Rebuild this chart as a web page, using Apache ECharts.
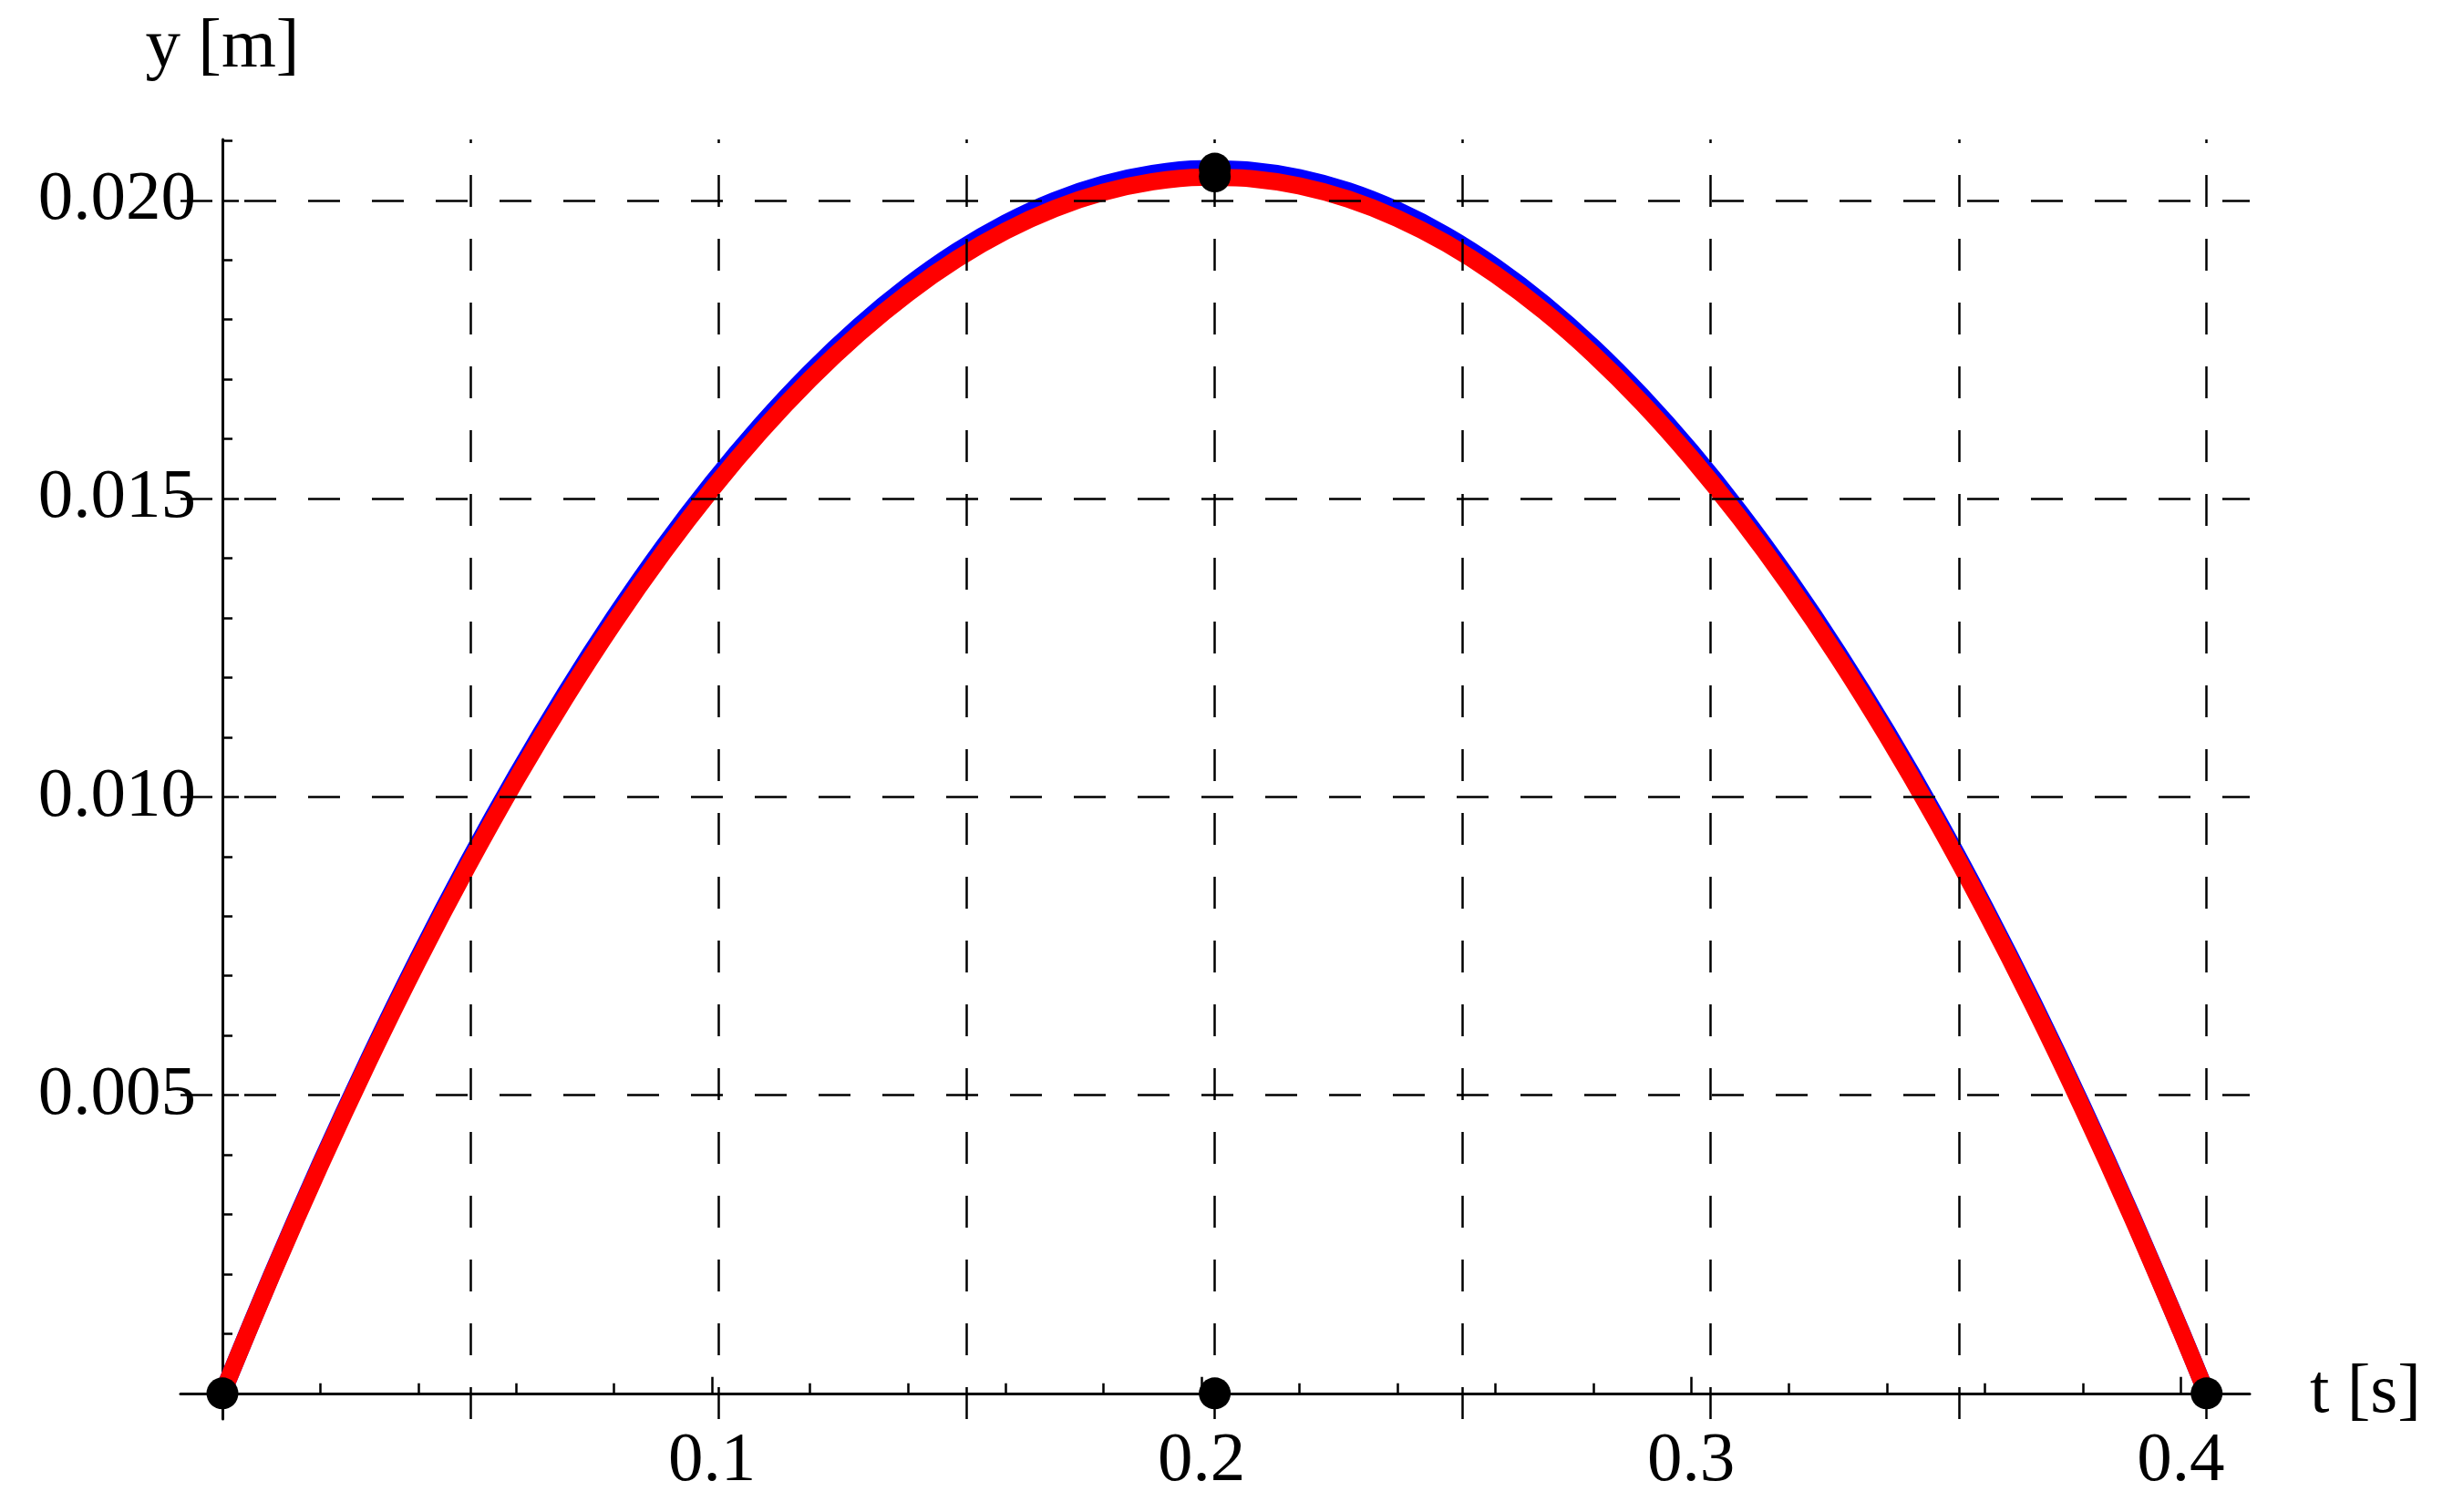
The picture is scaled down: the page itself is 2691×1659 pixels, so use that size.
<!DOCTYPE html>
<html>
<head>
<meta charset="utf-8">
<title>y(t)</title>
<script src="https://cdn.jsdelivr.net/npm/echarts@6/dist/echarts.min.js"></script>
<style>
  html, body { margin: 0; padding: 0; background: #fff; }
  #chart { width: 2691px; height: 1659px; }
</style>
</head>
<body>
<div id="chart"></div>
<script>
// time samples [s]
const tValues = [0, 0.01, 0.02, 0.03, 0.04, 0.05, 0.06, 0.07, 0.08, 0.09, 0.10,
  0.11, 0.12, 0.13, 0.14, 0.15, 0.16, 0.17, 0.18, 0.19, 0.20,
  0.21, 0.22, 0.23, 0.24, 0.25, 0.26, 0.27, 0.28, 0.29, 0.30,
  0.31, 0.32, 0.33, 0.34, 0.35, 0.36, 0.37, 0.38, 0.39, 0.40, 0.4053];
// height [m], blue curve (upper)
const yBlue = [0, 0.001976, 0.003852, 0.005628, 0.007305, 0.008881, 0.010357, 0.011733,
  0.013009, 0.014186, 0.015262, 0.016238, 0.017115, 0.017891, 0.018567, 0.019144,
  0.019620, 0.019997, 0.020273, 0.020449, 0.020526, 0.020502, 0.020379, 0.020156,
  0.019832, 0.019409, 0.018885, 0.018262, 0.017539, 0.016715, 0.015792, 0.014769,
  0.013645, 0.012422, 0.011099, 0.009676, 0.008152, 0.006529, 0.004806, 0.002983,
  0.001060, 0];
// height [m], red curve (thick)
const yRed = [0, 0.001963, 0.003826, 0.005590, 0.007255, 0.008820, 0.010287, 0.011653,
  0.012921, 0.014089, 0.015158, 0.016128, 0.016998, 0.017769, 0.018441, 0.019014,
  0.019487, 0.019861, 0.020135, 0.020310, 0.020386, 0.020363, 0.020240, 0.020018,
  0.019697, 0.019277, 0.018757, 0.018138, 0.017419, 0.016602, 0.015684, 0.014668,
  0.013553, 0.012338, 0.011023, 0.009610, 0.008097, 0.006485, 0.004773, 0.002963,
  0.001053, 0];
// black points
const dotT = [0, 0.2027, 0.2027, 0.2027, 0.4053];
const dotY = [0, 0, 0.02053, 0.0204, 0];
// dashed grid lines
const xGridLines = [0.0507, 0.1013, 0.152, 0.2027, 0.2533, 0.304, 0.3547, 0.4053];
const yGridLines = [0.005, 0.01, 0.015, 0.02];
// tick labels
const xTickLabels = [0.1, 0.2, 0.3, 0.4];
const yTickLabels = [0.005, 0.01, 0.015, 0.02];

const font = "Liberation Serif";
const pair = (xs, ys) => xs.map((x, i) => [x, ys[i]]);

let myChart = echarts.init(document.getElementById("chart"));
myChart.setOption({
  animation: false,
  backgroundColor: "#fff",
  grid: {
    left: 198,
    right: 223,
    top: 153,
    bottom: 102,
    containLabel: false,
    outerBoundsMode: "none",
  },
  xAxis: {
    type: "value",
    min: -0.00857,
    max: 0.4141,
    name: "t [s]",
    nameLocation: "end",
    nameGap: 66,
    nameTextStyle: { fontFamily: font, fontSize: 77, color: "#000", verticalAlign: "middle" },
    axisLine: { show: true, onZero: true, lineStyle: { color: "#000", width: 3 } },
    axisTick: { show: true, inside: true, length: 18, customValues: xTickLabels, lineStyle: { color: "#000", width: 2.5 } },
    minorTick: { show: true, splitNumber: 5, length: 11, lineStyle: { color: "#000", width: 2.5 } },
    axisLabel: { show: true, customValues: xTickLabels, margin: 8, fontFamily: font, fontSize: 77, color: "#000" },
    splitLine: { show: false },
  },
  yAxis: {
    type: "value",
    min: -0.00043,
    max: 0.02102,
    name: "y [m]",
    nameLocation: "end",
    nameGap: 62,
    nameTextStyle: { fontFamily: font, fontSize: 77, color: "#000", align: "center" },
    axisLine: { show: true, onZero: true, lineStyle: { color: "#000", width: 3 } },
    axisTick: { show: true, inside: true, length: 18, customValues: yTickLabels, lineStyle: { color: "#000", width: 2.5 } },
    minorTick: { show: true, splitNumber: 5, length: 11, lineStyle: { color: "#000", width: 2.5 } },
    axisLabel: {
      show: true,
      customValues: yTickLabels,
      margin: -17,
      fontFamily: font,
      fontSize: 77,
      color: "#000",
      formatter: function (v) {
        return v.toFixed(3);
      },
    },
    splitLine: { show: false },
  },
  series: [
    {
      // grid lines
      type: "line",
      data: [],
      z: 1,
      silent: true,
      markLine: {
        silent: true,
        precision: 6,
        symbol: "none",
        label: { show: false },
        lineStyle: { color: "#000", width: 2.5, type: [35, 35] },
        data: xGridLines.map((v) => ({ xAxis: v })).concat(yGridLines.map((v) => ({ yAxis: v }))),
      },
    },
    {
      name: "blue",
      type: "line",
      data: pair(tValues, yBlue),
      smooth: 0.3,
      showSymbol: false,
      z: 2,
      lineStyle: { color: "#0000ff", width: 19 },
    },
    {
      name: "red",
      type: "line",
      data: pair(tValues, yRed),
      smooth: 0.3,
      showSymbol: false,
      z: 3,
      lineStyle: { color: "#ff0000", width: 19 },
    },
    {
      name: "points",
      type: "scatter",
      data: pair(dotT, dotY),
      symbolSize: 35,
      z: 4,
      itemStyle: { color: "#000", opacity: 1 },
    },
  ],
});
</script>
</body>
</html>
